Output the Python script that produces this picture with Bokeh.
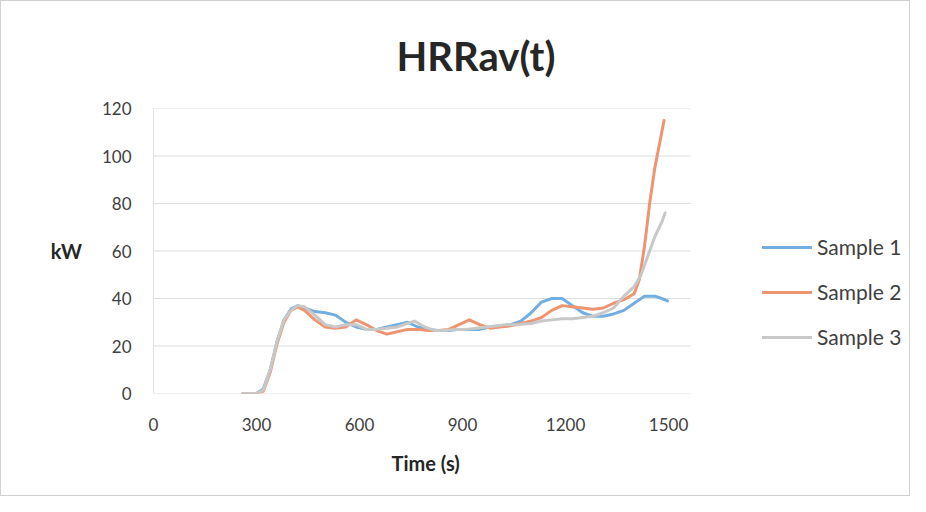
from bokeh.plotting import figure
from bokeh.models import Range1d, FixedTicker, Legend, LegendItem, Title
from bokeh.embed import file_html
from bokeh.resources import INLINE

# ---- data ----
s1_t = [260, 300, 320, 340, 360, 380, 400, 420, 440, 470, 500, 530, 560, 590, 620, 650, 680, 710, 740, 770,
        800, 830, 860, 890, 920, 950, 980, 1010, 1040, 1070, 1100, 1130, 1160, 1190, 1220, 1250, 1280, 1310,
        1340, 1370, 1400, 1430, 1460, 1480, 1497]
s1_hrr = [0, 0, 2, 10, 22, 31, 35.5, 37, 36, 34.5, 34, 33, 30, 28, 27, 27, 28, 29, 30, 28,
          27, 26.5, 26.5, 27, 27, 27, 28, 28.5, 29, 30.5, 34, 38.5, 40, 40, 37, 34, 32.5, 32.5,
          33.5, 35, 38, 41, 41, 40, 39]

s2_t = [260, 300, 320, 340, 360, 380, 400, 420, 440, 470, 500, 530, 560, 590, 620, 650, 680, 710, 740, 770,
        800, 830, 860, 890, 920, 950, 980, 1010, 1040, 1070, 1100, 1130, 1160, 1190, 1220, 1250, 1280, 1310,
        1340, 1370, 1400, 1415, 1430, 1445, 1460, 1475, 1487]
s2_hrr = [0, 0, 1, 9, 21, 30, 35, 36.5, 35, 31, 28, 27.5, 28, 31, 29, 26.5, 25, 26, 27, 27,
          26.5, 26.5, 27, 29, 31, 29, 27.5, 28, 28.5, 29.5, 30.5, 32, 35, 37, 36.5, 36, 35.5, 36,
          38, 39.5, 42, 48, 62, 80, 95, 106, 115]

s3_t = [260, 300, 320, 340, 360, 380, 400, 420, 440, 470, 500, 530, 560, 590, 620, 650, 680, 710, 740, 760,
        790, 820, 850, 880, 910, 940, 970, 1000, 1030, 1060, 1100, 1130, 1160, 1190, 1220, 1250, 1280, 1310,
        1340, 1370, 1400, 1420, 1440, 1460, 1480, 1490]
s3_hrr = [0, 0, 1.5, 10, 22, 31, 35, 37, 36.5, 33, 29, 28, 29, 29, 27, 27, 27.5, 28, 29.5, 30.5,
          28, 26.5, 26.5, 27, 27, 27.5, 28, 28.5, 29, 29, 29.5, 30.5, 31, 31.5, 31.5, 32, 32.5, 34,
          36, 41, 45, 50, 58, 66, 72, 76]

x_ticks = [0, 300, 600, 900, 1200, 1500]
y_ticks = [0, 20, 40, 60, 80, 100, 120]
series_names = ["Sample 1", "Sample 2", "Sample 3"]
colors = ["#72AEE0", "#EE9470", "#C8C8C8"]

X_AXIS_MAX = 1564          # right end of the chart's value axis (gridlines end here)
FONT = "Lato"

W, H = 910, 496
LEFT, TOP, BOTTOM_Y, RIGHT_PAD = 152, 107, 392, 10
unit = 537 / X_AXIS_MAX
x_view_end = (W - LEFT - RIGHT_PAD) / unit   # frame extends under the legend area

p = figure(width=W, height=H, output_backend="svg", toolbar_location=None,
           x_range=Range1d(0, x_view_end), y_range=Range1d(0, 120),
           min_border_left=LEFT, min_border_right=RIGHT_PAD, min_border_top=TOP,
           min_border_bottom=H - BOTTOM_Y,
           title="HRRav(t)")
p.styles = {"border": "1px solid #D0D0D0"}

p.title.align = "left"
p.title.vertical_align = "top"
p.title.text_font = FONT
p.title.text_font_size = "40px"
p.title.text_font_style = "bold"
p.title.text_color = "#262626"
p.title.standoff = 54
p.title.offset = 243

p.outline_line_color = None
p.background_fill_color = "white"
p.border_fill_color = "white"

p.xgrid.grid_line_color = None
p.ygrid.grid_line_color = None

# horizontal gridlines, limited to the value-axis extent
p.segment(x0=[0] * len(y_ticks), y0=y_ticks, x1=[X_AXIS_MAX] * len(y_ticks), y1=y_ticks,
          line_color="#DDDDDD", line_width=1)

p.xaxis.ticker = FixedTicker(ticks=x_ticks)
p.yaxis.ticker = FixedTicker(ticks=y_ticks)

for ax in (p.xaxis[0], p.yaxis[0]):
    ax.major_tick_line_color = None
    ax.minor_tick_line_color = None
    ax.major_label_text_font = FONT
    ax.major_label_text_font_size = "17px"
    ax.major_label_text_color = "#404040"
    ax.axis_label_text_font = FONT
    ax.axis_label_text_font_style = "bold"
    ax.axis_label_text_font_size = "20px"
    ax.axis_label_text_color = "#262626"

p.xaxis.axis_line_color = None
p.yaxis.axis_line_color = "#E2E2E2"
p.yaxis.axis_label = "kW"
p.yaxis.axis_label_orientation = "horizontal"
p.xaxis.major_label_standoff = 18
p.yaxis.major_label_standoff = 16
p.yaxis.axis_label_standoff = 17

# x axis title, centred under the value axis (not the whole frame)
xtitle = Title(text="Time (s)", align="left", offset=238, standoff=30,
               text_font=FONT, text_font_style="bold", text_font_size="20px",
               text_color="#262626")
p.add_layout(xtitle, "below")

renderers = []
for t, v, c in zip([s1_t, s2_t, s3_t], [s1_hrr, s2_hrr, s3_hrr], colors):
    r = p.line(t, v, line_color=c, line_width=3, line_join="round", line_cap="round")
    renderers.append(r)

legend = Legend(items=[LegendItem(label=n, renderers=[r]) for n, r in zip(series_names, renderers)],
                location=(609, 44), padding=0, margin=0, border_line_color=None,
                background_fill_alpha=0, glyph_width=50, glyph_height=20, label_height=20,
                label_standoff=5, spacing=20,
                label_text_font=FONT, label_text_font_size="21px", label_text_color="#404040")
p.add_layout(legend, "center")

open("out.html", "w").write(file_html(p, INLINE))
